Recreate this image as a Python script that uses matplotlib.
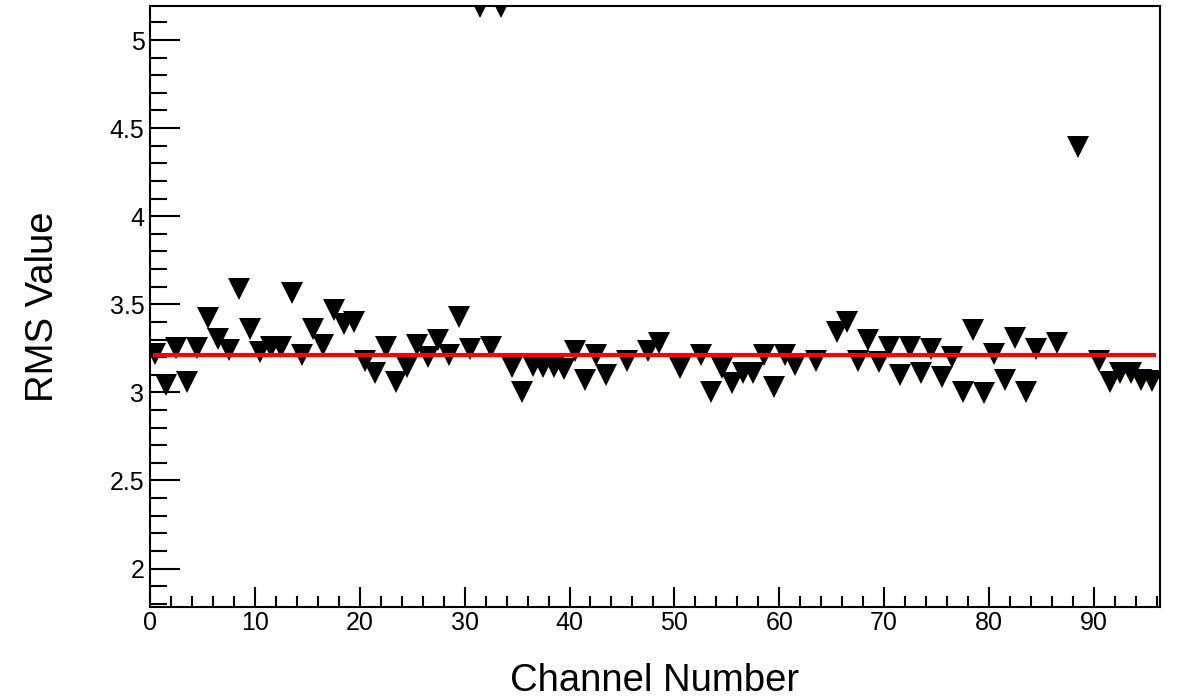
import numpy as np
import matplotlib
matplotlib.use('Agg')
import matplotlib.pyplot as plt
from matplotlib.ticker import MultipleLocator, FuncFormatter

plt.rcParams['font.family'] = ['Liberation Sans', 'DejaVu Sans']

# channels that gave a reading (44, 46, 49, 51, 62, 64, 85, 87, 89 are empty)
channels = [0, 1, 2, 3, 4, 5, 6, 7, 8, 9,
            10, 11, 12, 13, 14, 15, 16, 17, 18, 19,
            20, 21, 22, 23, 24, 25, 26, 27, 28, 29,
            30, 31, 32, 33, 34, 35, 36, 37, 38, 39,
            40, 41, 42, 43, 45, 47, 48, 50,
            52, 53, 54, 55, 56, 57, 58, 59,
            60, 61, 63, 65, 66, 67, 68, 69,
            70, 71, 72, 73, 74, 75, 76, 77, 78, 79,
            80, 81, 82, 83, 84, 86, 88,
            90, 91, 92, 93, 94, 95]
rms = [3.22, 3.04, 3.25, 3.06, 3.25, 3.425, 3.305, 3.24, 3.585, 3.36,
       3.23, 3.255, 3.255, 3.565, 3.215, 3.36, 3.27, 3.465, 3.39, 3.40,
       3.18, 3.11, 3.255, 3.06, 3.145, 3.27, 3.20, 3.30, 3.215, 3.43,
       3.245, 5.185, 3.26, 5.185, 3.145, 3.005, 3.15, 3.145, 3.145, 3.13,
       3.235, 3.07, 3.21, 3.10, 3.18, 3.235, 3.28, 3.14,
       3.21, 3.00, 3.14, 3.055, 3.11, 3.11, 3.21, 3.03,
       3.21, 3.155, 3.18, 3.34, 3.40, 3.18, 3.30, 3.17,
       3.255, 3.10, 3.26, 3.11, 3.245, 3.085, 3.20, 3.00, 3.355, 2.995,
       3.22, 3.07, 3.31, 3.00, 3.245, 3.28, 4.39,
       3.18, 3.06, 3.11, 3.11, 3.07, 3.065]

# constant (pol0) fit over the channel range
fit_const = 3.215
fit_range = [0.5, 95.7]

x = np.array(channels) + 0.5

fig = plt.figure(figsize=(11.79, 6.98), dpi=100)
ax = fig.add_axes([0.1272, 0.1304, 0.8567, 0.861])

ax.plot(x, rms, linestyle='none', marker='v', markersize=15.5,
        color='black', markeredgewidth=0)
ax.plot(fit_range, [fit_const, fit_const], color='red', linewidth=3)

ax.set_xlim(0, 96.3)
ax.set_ylim(1.782, 5.193)

ax.xaxis.set_major_locator(MultipleLocator(10))
ax.xaxis.set_minor_locator(MultipleLocator(2))
ax.yaxis.set_major_locator(MultipleLocator(0.5))
ax.yaxis.set_minor_locator(MultipleLocator(0.1))
ax.yaxis.set_major_formatter(FuncFormatter(lambda v, p: '%g' % v))

ax.tick_params(which='both', direction='in', top=False, right=False,
               width=1.5, color='black', labelsize=18)
ax.tick_params(axis='y', which='major', length=21.6, pad=4)
ax.tick_params(axis='y', which='minor', length=12.2)
ax.tick_params(axis='x', which='major', length=14.4, pad=3)
ax.tick_params(axis='x', which='minor', length=8)

for s in ax.spines.values():
    s.set_linewidth(1.5)

ax.set_xlabel('Channel Number', fontsize=27.5)
ax.set_ylabel('RMS Value', fontsize=27.5)
ax.xaxis.set_label_coords(0.5, -0.094)
ax.yaxis.set_label_coords(-0.088, 0.5)

fig.savefig('out.png', dpi=100)
